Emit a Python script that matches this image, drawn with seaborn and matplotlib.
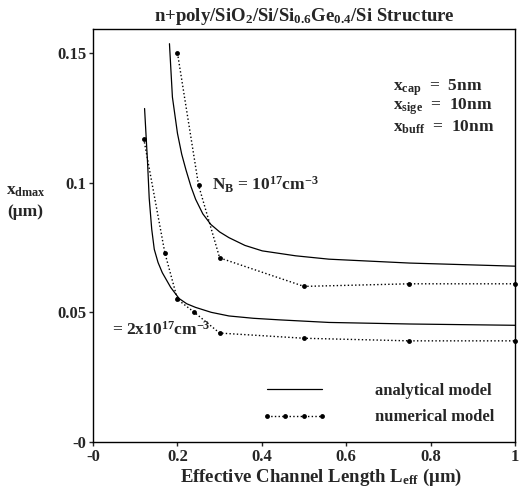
import pandas as pd
import seaborn as sns
import matplotlib.pyplot as plt
from matplotlib.ticker import FixedLocator

# numerical model (symbols), N_B = 1e17 and 2e17 cm^-3
leff_num_1 = [0.2, 0.25, 0.3, 0.5, 0.75, 1.0]
xd_num_1 = [0.150, 0.099, 0.071, 0.060, 0.061, 0.061]
leff_num_2 = [0.12, 0.17, 0.2, 0.24, 0.3, 0.5, 0.75, 1.0]
xd_num_2 = [0.117, 0.073, 0.055, 0.050, 0.042, 0.040, 0.039, 0.039]

# analytical model (solid)
leff_ana_1 = [0.181, 0.188, 0.2, 0.21, 0.22, 0.232, 0.243, 0.26, 0.279, 0.3, 0.322, 0.36, 0.401, 0.48, 0.559, 0.75, 1.0]
xd_ana_1 = [0.1536, 0.133, 0.119, 0.111, 0.105, 0.0985, 0.0936, 0.0880, 0.0839, 0.0810, 0.0788, 0.0758, 0.0737, 0.0718, 0.0705, 0.069, 0.0678]
leff_ana_2 = [0.122, 0.129, 0.133, 0.139, 0.145, 0.154, 0.164, 0.184, 0.204, 0.222, 0.243, 0.28, 0.322, 0.38, 0.441, 0.559, 0.75, 1.0]
xd_ana_2 = [0.1286, 0.108, 0.094, 0.082, 0.0743, 0.0692, 0.0653, 0.0596, 0.0553, 0.0533, 0.0519, 0.0500, 0.0486, 0.0477, 0.0471, 0.0461, 0.0455, 0.045]

xticks = [0, 0.2, 0.4, 0.6, 0.8, 1.0]
xticklabels = ['-0', '0.2', '0.4', '0.6', '0.8', '1']
yticks = [0, 0.05, 0.1, 0.15]
yticklabels = ['-0', '0.05', '0.1', '0.15']

sns.set_style('ticks')
plt.rcParams['font.family'] = ['Liberation Serif', 'DejaVu Serif']
plt.rcParams['font.weight'] = 'bold'
plt.rcParams['mathtext.fontset'] = 'custom'
plt.rcParams['mathtext.rm'] = 'Liberation Serif:bold'
plt.rcParams['mathtext.it'] = 'Liberation Serif:bold'
plt.rcParams['mathtext.bf'] = 'Liberation Serif:bold'

fig = plt.figure(figsize=(5.26, 4.90), dpi=100)
ax = fig.add_axes([0.177, 0.098, 0.802, 0.843])

ana1 = pd.DataFrame({'L': leff_ana_1, 'x': xd_ana_1})
ana2 = pd.DataFrame({'L': leff_ana_2, 'x': xd_ana_2})
num1 = pd.DataFrame({'L': leff_num_1, 'x': xd_num_1})
num2 = pd.DataFrame({'L': leff_num_2, 'x': xd_num_2})

line_kw = dict(color='black', linewidth=0.9, ax=ax, sort=False)
dot_kw = dict(color='black', linewidth=1.0, linestyle=':', marker='o',
              markersize=3.5, markeredgewidth=0, ax=ax, sort=False, clip_on=False)
sns.lineplot(data=ana1, x='L', y='x', label='analytical model', **line_kw)
sns.lineplot(data=ana2, x='L', y='x', **line_kw)
sns.lineplot(data=num1, x='L', y='x', label='numerical model', **dot_kw)
sns.lineplot(data=num2, x='L', y='x', **dot_kw)

ax.set_xlim(0, 1.0)
ax.set_ylim(0, 0.1593)
ax.xaxis.set_major_locator(FixedLocator(xticks))
ax.set_xticklabels(xticklabels)
ax.yaxis.set_major_locator(FixedLocator(yticks))
ax.set_yticklabels(yticklabels)
ax.tick_params(direction='out', length=3, width=1, labelsize=12, pad=2)
for s in ax.spines.values():
    s.set_linewidth(1.0)
    s.set_color('black')

ax.set_xlabel(r'Effective Channel Length L$_{\mathrm{eff}}$ ($\mathrm{\mu}$m)',
              fontsize=13.5, fontweight='bold', va='center')
ax.xaxis.set_label_coords(0.54, -0.085)
ax.set_ylabel('x$_{\\mathrm{dmax}}$\n(μm)', fontsize=12.5, fontweight='bold',
              rotation=0, ha='center', va='center', linespacing=1.4)
ax.yaxis.set_label_coords(-0.16, 0.583)
ax.set_title(r'n+poly/SiO$_2$/Si/Si$_{0.6}$Ge$_{0.4}$/Si Structure',
             fontsize=13.5, fontweight='bold', pad=6)

ann = dict(fontsize=12.5, va='center')
ax.text(0.711, 0.1365, r'x$_{\mathrm{cap}}$  =  5nm', **ann)
ax.text(0.711, 0.1292, r'x$_{\mathrm{sige}}$  =  10nm', **ann)
ax.text(0.711, 0.1215, r'x$_{\mathrm{buff}}$  =  10nm', **ann)
ax.text(0.282, 0.0991, r'N$_{\mathrm{B}}$ = 10$^{17}$cm$^{-3}$', **ann)
ax.text(0.045, 0.0432, r'= 2x10$^{17}$cm$^{-3}$', **ann)

ax.legend(loc='center left', bbox_to_anchor=(0.40, 0.092), frameon=False,
          borderpad=0, borderaxespad=0, handlelength=3.9, handletextpad=2.9,
          labelspacing=0.65, numpoints=4, fontsize=12)

plt.savefig('out.png', dpi=100)
